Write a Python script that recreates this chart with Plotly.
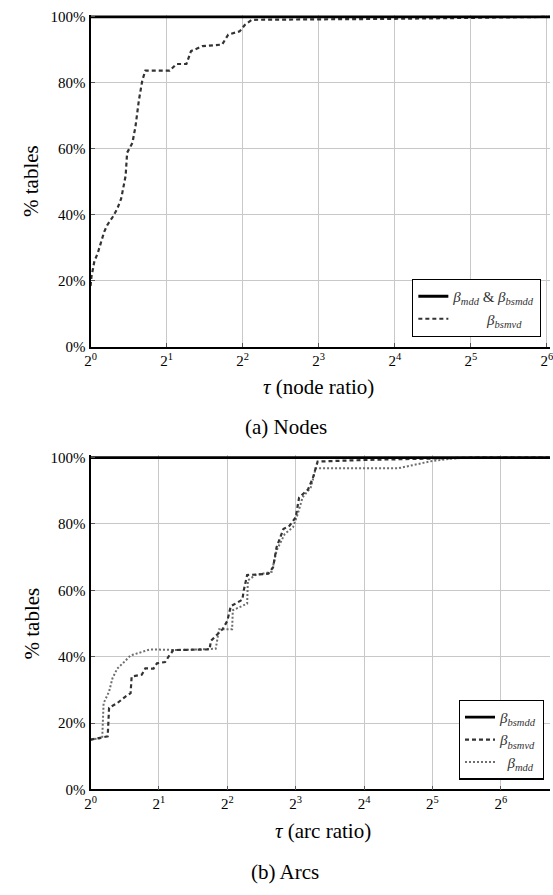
import math
import plotly.graph_objects as go

# ---------------- data ----------------
# (a) Nodes: performance profile over the node ratio tau
nodes_tau_bsmvd = [1.000, 1.007, 1.035, 1.068, 1.102, 1.133, 1.165, 1.223, 1.275,
                   1.320, 1.338, 1.376, 1.395, 1.464, 1.505, 1.553, 1.602, 1.647,
                   2.056, 2.188, 2.395, 2.497, 2.770, 3.317, 3.506, 3.891, 4.084,
                   4.347, 16.0, 32.0, 66.0, 128.0]
nodes_pct_bsmvd = [18.4, 21.0, 25.9, 28.4, 31.9, 34.9, 36.9, 39.3, 41.8,
                   44.8, 47.0, 51.8, 58.8, 61.8, 66.7, 74.7, 80.7, 83.7,
                   83.7, 85.7, 85.7, 89.6, 91.1, 91.6, 94.6, 95.6, 97.6,
                   99.1, 99.4, 99.8, 100.0, 100.0]
nodes_tau_mdd_bsmdd = [1.0, 128.0]
nodes_pct_mdd_bsmdd = [100.0, 100.0]

# (b) Arcs: performance profile over the arc ratio tau
arcs_tau_bsmdd = [1.0, 128.0]
arcs_pct_bsmdd = [100.0, 100.0]
arcs_tau_bsmvd = [1.000, 1.189, 1.206, 1.310, 1.424, 1.500, 1.516, 1.682, 1.741,
                  1.892, 1.959, 2.129, 2.204, 2.313, 3.340, 3.387, 3.811, 4.000,
                  4.141, 4.659, 4.724, 4.890, 6.063, 6.364, 6.589, 7.062, 7.516,
                  8.000, 8.282, 9.063, 9.514, 9.987, 16.0, 32.0, 48.5, 128.0]
arcs_pct_bsmvd = [15.0, 16.0, 24.6, 26.0, 28.0, 29.0, 34.0, 34.6, 36.5,
                  36.4, 38.0, 38.4, 40.0, 42.0, 42.2, 44.8, 48.3, 50.8,
                  55.2, 57.2, 60.0, 64.6, 65.0, 67.0, 73.0, 78.5, 79.5,
                  82.0, 88.0, 90.4, 93.8, 98.8, 99.3, 99.7, 100.0, 100.0]
arcs_tau_mdd = [1.000, 1.125, 1.141, 1.206, 1.248, 1.310, 1.404, 1.500, 1.828,
                2.462, 3.555, 3.630, 3.681, 4.199, 4.228, 4.890, 4.925, 5.315,
                6.276, 6.589, 7.160, 7.781, 8.168, 8.574, 9.318, 9.646, 9.781,
                22.63, 26.91, 32.0, 40.22, 48.5, 128.0]
arcs_pct_mdd = [15.0, 15.5, 26.0, 29.5, 33.5, 36.4, 38.4, 40.4, 42.2,
                42.0, 42.4, 45.3, 48.3, 48.3, 54.0, 56.0, 63.0, 64.6,
                65.6, 72.0, 77.0, 79.0, 83.0, 88.0, 91.0, 94.8, 96.8,
                96.8, 98.0, 99.0, 99.8, 100.0, 100.0]

tick_tau = [1, 2, 4, 8, 16, 32, 64, 128]
tick_tau_text = ["2<sup>%d</sup>" % k for k in range(8)]
tick_pct = [0, 20, 40, 60, 80, 100]
tick_pct_text = ["%d%%" % v for v in tick_pct]

# ---------------- layout helpers ----------------
W, H = 553, 895
SERIF = "Liberation Serif, Times New Roman, serif"


def px_x(x):
    return x / W


def px_y(y):
    return 1 - y / H


SOLID = dict(color="black", width=2.8)
DASHED = dict(color="#333333", width=2.2, dash="4px,3px")
DOTTED = dict(color="#6e6e6e", width=2.0, dash="2px,2px")

fig = go.Figure()

# (a) Nodes
fig.add_trace(go.Scatter(x=nodes_tau_bsmvd, y=nodes_pct_bsmvd, mode="lines",
                         line=DASHED, xaxis="x", yaxis="y", legend="legend",
                         legendrank=2,
                         name="\u00a0" * 9 + "<i>β</i><sub><i>bsmvd</i></sub>"))
fig.add_trace(go.Scatter(x=nodes_tau_mdd_bsmdd, y=nodes_pct_mdd_bsmdd, mode="lines",
                         line=SOLID, xaxis="x", yaxis="y", legend="legend",
                         legendrank=1,
                         name="<i>β</i><sub><i>mdd</i></sub> & <i>β</i><sub><i>bsmdd</i></sub>"))

# (b) Arcs
fig.add_trace(go.Scatter(x=arcs_tau_mdd, y=arcs_pct_mdd, mode="lines",
                         line=DOTTED, xaxis="x2", yaxis="y2", legend="legend2",
                         legendrank=3,
                         name="\u00a0\u00a0<i>β</i><sub><i>mdd</i></sub>"))
fig.add_trace(go.Scatter(x=arcs_tau_bsmvd, y=arcs_pct_bsmvd, mode="lines",
                         line=DASHED, xaxis="x2", yaxis="y2", legend="legend2",
                         legendrank=2,
                         name="<i>β</i><sub><i>bsmvd</i></sub>"))
fig.add_trace(go.Scatter(x=arcs_tau_bsmdd, y=arcs_pct_bsmdd, mode="lines",
                         line=SOLID, xaxis="x2", yaxis="y2", legend="legend2",
                         legendrank=1,
                         name="<i>β</i><sub><i>bsmdd</i></sub>"))

# plot-area geometry (pixels)
LEFT = 86
A_TOP, A_BOT = 12.0, 346.7        # 100% and 0% rows of (a)
B_TOP, B_BOT = 459.3, 796.0       # 100% and 0% rows of (b)
Y_MAX = 100.7
a_ppu = (A_BOT - A_TOP) / 100.0
b_ppu = (B_BOT - B_TOP) / 100.0
a_top_px = A_BOT - Y_MAX * a_ppu
b_top_px = B_BOT - Y_MAX * b_ppu

# x-range: left edge at 2^0, right edge at the window border
a_right_log2 = (W - LEFT) / 77.3
b_right_log2 = (W - LEFT) / 69.5

tickfont = dict(family=SERIF, size=15, color="black")

common_x = dict(type="log", tickmode="array", tickvals=tick_tau, ticktext=tick_tau_text,
                showgrid=True, gridcolor="#c8c8c8", gridwidth=1,
                showline=True, linecolor="black", linewidth=1.6,
                ticks="inside", ticklen=4, tickcolor="#555555",
                tickfont=dict(family=SERIF, size=15, color="black"),
                ticklabeloverflow="allow", zeroline=False)
common_y = dict(range=[0, Y_MAX], tickmode="array", tickvals=tick_pct, ticktext=tick_pct_text,
                showgrid=True, gridcolor="#c8c8c8", gridwidth=1,
                showline=True, linecolor="black", linewidth=2,
                ticks="inside", ticklen=4, tickcolor="#555555",
                tickfont=tickfont, zeroline=False)

fig.update_layout(
    width=W, height=H, autosize=False,
    margin=dict(l=0, r=0, t=0, b=0),
    paper_bgcolor="white", plot_bgcolor="white",
    showlegend=True,
    xaxis=dict(common_x, domain=[px_x(LEFT), 1.0], anchor="y",
               range=[0, a_right_log2 * math.log10(2)]),
    yaxis=dict(common_y, domain=[px_y(A_BOT), px_y(a_top_px)], anchor="x"),
    xaxis2=dict(common_x, domain=[px_x(LEFT), 1.0], anchor="y2",
                range=[0, b_right_log2 * math.log10(2)]),
    yaxis2=dict(common_y, domain=[px_y(B_BOT), px_y(b_top_px)], anchor="x2"),
    legend=dict(x=px_x(544), y=px_y(336.7), xanchor="right", yanchor="bottom",
                bgcolor="white", bordercolor="black", borderwidth=1.2,
                font=dict(family=SERIF, size=15, color="#333333"),
                tracegroupgap=0, itemwidth=30),
    legend2=dict(x=px_x(546.7), y=px_y(786), xanchor="right", yanchor="bottom",
                 bgcolor="white", bordercolor="black", borderwidth=1.2,
                 font=dict(family=SERIF, size=15, color="#333333"),
                 tracegroupgap=0, itemwidth=30),
)

annotations = [
    # axis titles
    dict(text="<i>τ</i> (node ratio)", x=px_x(318), y=px_y(388)),
    dict(text="<i>τ</i> (arc ratio)", x=px_x(322), y=px_y(838)),
    dict(text="% tables", x=px_x(26), y=px_y(179), textangle=-90),
    dict(text="% tables", x=px_x(26), y=px_y(628), textangle=-90),
]
for a in annotations:
    a.update(xref="paper", yref="paper", showarrow=False,
             xanchor="center", yanchor="middle",
             font=dict(family=SERIF, size=21, color="black"))
    fig.add_annotation(**a)

# sub-figure captions
for text, cx, cy in [("(a) Nodes", 285, 428), ("(b) Arcs", 284, 880)]:
    fig.add_annotation(text=text, x=px_x(cx), y=px_y(cy), xref="paper", yref="paper",
                       showarrow=False, xanchor="center", yanchor="middle",
                       font=dict(family=SERIF, size=21, color="black"))

fig.write_html("out.html")
